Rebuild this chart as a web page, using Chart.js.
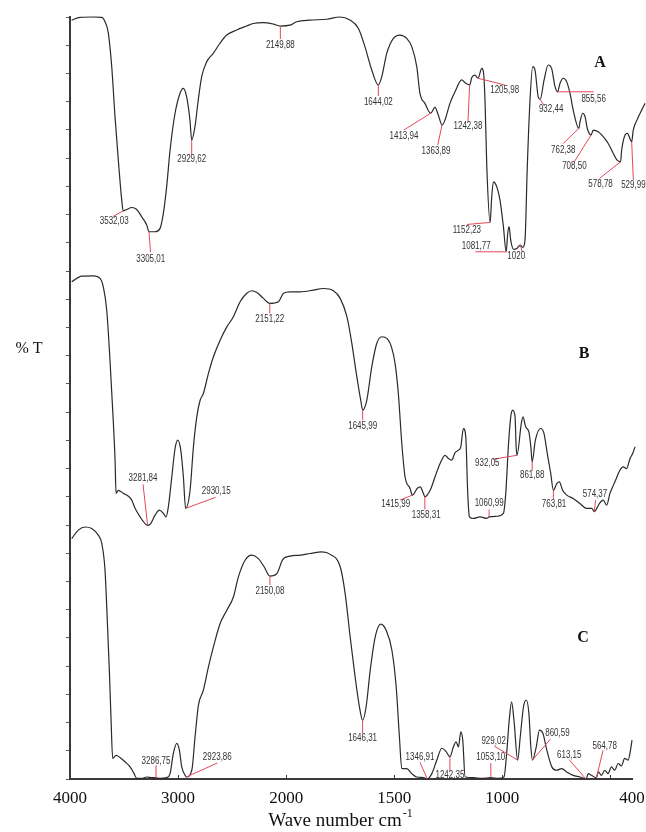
<!DOCTYPE html>
<html>
<head>
<meta charset="utf-8">
<script src="https://cdn.jsdelivr.net/npm/chart.js@4.4.1/dist/chart.umd.min.js"></script>
<style>
  html, body { margin: 0; padding: 0; background: #fff; }
</style>
</head>
<body>
<canvas id="ftir" width="646" height="832"></canvas>
<script>
// x axis: 4000-2000 at half the scale of 2000-400 (usual FTIR layout)
const tickWave = [4000, 3000, 2000, 1500, 1000, 500, 400];
const tickText = ['4000', '3000', '2000', '1500', '1000', '', '400'];

// spectrum A (its trace was pasted on a slightly wider scale, see xA)
const waveA = [3985, 3912, 3795, 3721, 3692, 3663, 3633, 3604, 3575, 3545,
  3532.03, 3501, 3457, 3413, 3369, 3325, 3305.01, 3252, 3208, 3179,
  3150, 3120, 3076, 3032, 3004, 2974, 2945, 2929.62, 2901, 2872,
  2842, 2798, 2740, 2681, 2622, 2534, 2446, 2388, 2300, 2212,
  2149.88, 2065, 2006, 1945, 1871, 1813, 1769, 1732, 1703, 1673,
  1644.02, 1629, 1607, 1578, 1549, 1519, 1497, 1475, 1461, 1439,
  1413.94, 1395, 1380, 1363.89, 1351, 1329, 1307, 1277, 1263, 1242.38,
  1233, 1219, 1205.98, 1189, 1182, 1175, 1167, 1152.23, 1146, 1138,
  1123, 1109, 1094, 1081.77, 1075, 1069, 1062, 1050, 1035, 1020,
  1009, 999, 989, 977, 965, 955, 941, 932.44, 915, 897,
  882, 867, 855.56, 845, 831, 816, 801, 787, 762.38, 757,
  745, 735, 725, 708.5, 699, 677, 655, 633, 611, 596,
  578.78, 574, 559, 549, 529.99, 523, 503, 486, 471];
const tA = [26.89, 26.99, 27.0, 26.99, 26.83, 26.43, 25.24, 23.46, 21.93, 20.51,
  20.13, 20.18, 20.25, 20.18, 19.92, 19.63, 19.39, 19.39, 19.51, 20.04,
  20.98, 22.28, 23.59, 24.30, 24.47, 24.17, 23.35, 22.64, 23.11, 24.06,
  24.88, 25.41, 25.71, 26.07, 26.36, 26.54, 26.68, 26.77, 26.80, 26.75,
  26.68, 26.71, 26.83, 26.89, 26.92, 27.0, 26.89, 26.60, 25.95, 25.12,
  24.59, 24.88, 25.71, 26.24, 26.36, 26.24, 25.95, 25.24, 24.29, 23.94,
  23.59, 23.80, 23.52, 23.17, 23.35, 23.94, 24.35, 24.77, 24.67, 24.59,
  24.86, 24.94, 24.83, 25.18, 25.06, 24.06, 21.69, 19.72, 20.55, 21.16,
  20.98, 20.51, 19.57, 18.68, 19.33, 19.57, 19.10, 18.77, 18.80, 18.92,
  18.84, 19.10, 21.69, 24.06, 25.24, 25.12, 24.17, 24.08, 24.77, 25.30,
  25.18, 24.53, 24.35, 24.65, 24.83, 24.71, 24.29, 23.70, 23.05, 23.29,
  23.59, 23.47, 23.05, 22.82, 22.99, 22.93, 22.76, 22.52, 22.17, 21.95,
  21.87, 22.28, 22.82, 22.88, 22.58, 22.99, 23.41, 23.70, 23.94];

const waveB = [3984, 3892, 3784, 3722, 3692, 3660, 3630, 3605, 3583, 3574,
  3553, 3506, 3460, 3429, 3398, 3352, 3306, 3281.84, 3253, 3213,
  3173, 3136, 3111, 3090, 3058, 3028, 3003, 2975, 2951, 2930.15,
  2889, 2858, 2827, 2796, 2766, 2719, 2673, 2611, 2549, 2488,
  2426, 2364, 2318, 2271, 2210, 2151.22, 2071, 2025, 1982, 1935,
  1874, 1828, 1781, 1750, 1719, 1696, 1673, 1655, 1645.99, 1627,
  1604, 1581, 1557, 1534, 1511, 1496, 1481, 1465, 1450, 1427,
  1415.99, 1393, 1380, 1365, 1358.31, 1334, 1311, 1288, 1265, 1250,
  1234, 1219, 1203, 1192, 1180, 1169, 1160, 1152, 1134, 1103,
  1072, 1060.99, 1026, 995, 984, 972, 961, 952, 941, 936,
  932.05, 912, 904, 892, 877, 868, 861.88, 847, 822, 807,
  792, 776, 763.81, 748, 736, 721, 702, 672, 641, 610,
  586, 574.37, 551, 533, 517, 502, 479, 456, 441, 425,
  409, 397, 386];
const tB = [17.62, 17.82, 17.83, 17.74, 17.44, 16.61, 14.84, 13.07, 11.30, 10.12,
  10.23, 10.12, 10.02, 9.88, 9.59, 9.29, 9.05, 8.99, 9.05, 9.35,
  9.53, 9.41, 9.29, 9.64, 10.71, 11.71, 12.01, 11.65, 10.71, 9.59,
  10.23, 11.77, 12.83, 13.42, 13.66, 14.37, 14.96, 15.55, 16.02, 16.38,
  16.91, 17.21, 17.30, 17.24, 17.03, 16.85, 16.91, 17.21, 17.26, 17.26,
  17.32, 17.38, 17.30, 17.03, 16.38, 15.43, 14.25, 13.42, 13.07, 13.42,
  14.60, 15.43, 15.67, 15.61, 15.26, 14.72, 13.66, 11.89, 10.71, 10.30,
  10.06, 10.30, 10.35, 10.12, 10.00, 10.23, 10.71, 11.18, 11.47, 11.36,
  11.30, 11.56, 11.65, 11.77, 12.42, 12.12, 10.12, 9.29, 9.23, 9.29,
  9.23, 9.29, 9.31, 9.41, 10.12, 11.77, 12.83, 13.07, 12.83, 11.77,
  11.47, 12.60, 12.83, 12.48, 12.30, 11.77, 11.24, 12.01, 12.42, 12.24,
  11.53, 10.83, 10.23, 10.47, 10.53, 10.23, 10.06, 9.94, 9.76, 9.59,
  9.59, 9.47, 9.76, 9.88, 9.70, 10.12, 10.53, 10.94, 11.06, 11.00,
  11.36, 11.53, 11.77];

const waveC = [3984, 3923, 3861, 3799, 3738, 3706, 3676, 3655, 3636, 3620,
  3605, 3574, 3537, 3491, 3444, 3407, 3382, 3336, 3290, 3244,
  3204, 3167, 3105, 3074, 3044, 3012, 2988, 2966, 2935, 2923.86,
  2873, 2843, 2812, 2766, 2719, 2673, 2611, 2549, 2488, 2442,
  2380, 2318, 2257, 2204, 2150.08, 2086, 2031, 1982, 1935, 1889,
  1835, 1796, 1750, 1727, 1704, 1681, 1661, 1646.31, 1630, 1611,
  1588, 1562, 1538, 1511, 1491, 1476, 1465, 1442, 1419, 1396,
  1365, 1346.91, 1326, 1303, 1280, 1260, 1242.35, 1226, 1214, 1203,
  1192, 1183, 1172, 1134, 1095, 1053.1, 1018, 992, 980, 968,
  957, 946, 929.02, 917, 902, 889, 877, 868, 860.59, 843,
  828, 812, 794, 771, 748, 725, 702, 672, 641, 613.15,
  602, 587, 564.78, 556, 541, 526, 511, 495, 480, 464,
  449, 434, 418, 407, 400];
const tC = [8.52, 8.82, 8.93, 8.88, 8.64, 8.35, 7.40, 5.63, 3.86, 2.08,
  0.73, 0.84, 0.76, 0.61, 0.43, 0.19, 0.02, 0.02, 0.07, 0.05,
  0.04, 0.02, 0.05, 0.19, 0.90, 1.26, 1.02, 0.43, 0.13, 0.07,
  0.31, 1.49, 2.61, 3.15, 3.97, 4.68, 5.51, 5.98, 6.45, 7.16,
  7.75, 7.93, 7.81, 7.52, 7.19, 7.28, 7.78, 7.90, 7.93, 7.99,
  8.05, 7.96, 7.52, 6.57, 5.04, 3.62, 2.56, 2.08, 2.56, 3.86,
  5.04, 5.49, 5.28, 4.57, 3.27, 1.49, 0.37, 0.37, 0.19, 0.07,
  0.05, 0.0, 0.19, 0.67, 1.09, 0.97, 0.79, 1.14, 1.32, 1.14,
  1.67, 1.38, 0.07, 0.05, 0.02, 0.05, 0.02, 0.07, 0.90, 2.08,
  2.73, 2.08, 0.67, 1.49, 2.56, 2.80, 2.32, 1.14, 0.67, 1.14,
  1.73, 1.61, 1.02, 0.43, 0.31, 0.37, 0.25, 0.13, 0.07, 0.0,
  0.19, 0.13, 0.04, 0.25, 0.13, 0.31, 0.19, 0.43, 0.31, 0.55,
  0.46, 0.73, 0.67, 1.02, 1.38];

// peak labels: anchor wavenumber, text
const peakWaveA = [3532.03, 3305.01, 2929.62, 2149.88, 1644.02, 1413.94, 1363.89, 1242.38, 1205.98,
  1152.23, 1081.77, 1020, 932.44, 855.56, 762.38, 708.5, 578.78, 529.99];
const peakTextA = ['3532,03', '3305,01', '2929,62', '2149,88', '1644,02', '1413,94', '1363,89', '1242,38', '1205,98',
  '1152,23', '1081,77', '1020', '932,44', '855,56', '762,38', '708,50', '578,78', '529,99'];
const peakWaveB = [3281.84, 2930.15, 2151.22, 1645.99, 1415.99, 1358.31, 1060.99, 932.05, 861.88, 763.81, 574.37];
const peakTextB = ['3281,84', '2930,15', '2151,22', '1645,99', '1415,99', '1358,31', '1060,99', '932,05', '861,88', '763,81', '574,37'];
const peakWaveC = [3204, 2923.86, 2150.08, 1646.31, 1346.91, 1242.35, 1053.1, 929.02, 860.59, 613.15, 564.78];
const peakTextC = ['3286,75', '2923,86', '2150,08', '1646,31', '1346,91', '1242,35', '1053,10', '929,02', '860,59', '613,15', '564,78'];

// label layout: leader end dx,dy and text centre dx,dy in px from the anchor
const offA = [[-10, 5.5, -9, 10], [1.5, 20.6, 1.7, 27.6], [0, 15, 0, 19.5], [0, 13, 0, 19.5], [0, 11, 0, 17.5],
  [-26.7, 16.7, -26.7, 23.3], [-4.3, 20, -6, 25.7], [-1.7, 36.7, -1.7, 41.7], [26.7, 6.7, 26.7, 12.4],
  [-23.3, 2, -23.3, 8], [-30.7, 0, -30, -5.7], [2, 7, -4, 11], [4, 6, 11, 10], [36, 0, 36, 7.5],
  [-15.6, 15, -15.6, 21.7], [-16.7, 26.7, -16.7, 31.7], [-21, 16.6, -20, 22.3], [1.7, 38.3, 1.7, 43.3]];
const offB = [[-4.6, -41, -4.6, -46.7], [30, -11, 30.6, -16.6], [0, 10, 0, 16], [0, 10, 0, 15.7],
  [-12.3, 5, -16.7, 9], [0, 12.6, 1.3, 18.3], [0, -7.4, 0, -13.4], [-24, 4, -29.7, 7.7],
  [0, 9, 0, 13.3], [0, 9.3, 0.7, 14], [1.3, -11.7, 0.7, -17.7]];
const offC = [[0, -12.7, 0, -17], [31, -14, 31, -19.4], [0, 9, 0, 14.7], [0, 13.3, 0, 18.3],
  [-7.3, -16.6, -7.3, -22], [0, 14, 0, 19], [0, -14.6, 0, -20], [-23.4, -14, -24, -19.3],
  [18, -21, 25, -26.7], [-16.7, -19.3, -16.7, -23.3], [6.7, -27.7, 8.3, -31.7]];

const letterText = ['A', 'B', 'C'];
const letterWave = [548, 622, 627];
const letterT = [25.37, 15.06, 5.0];

// wavenumber -> position on the split axis
function pos(w) {
  return w >= 2000 ? 4000 - w : 2000 + 2 * (2000 - w);
}
function valueAt(waves, vals, w) {
  for (let i = 0; i < waves.length - 1; i++) {
    if (waves[i] >= w && w >= waves[i + 1]) {
      const f = (waves[i] - w) / (waves[i] - waves[i + 1]);
      return vals[i] + f * (vals[i + 1] - vals[i]);
    }
  }
  return vals[vals.length - 1];
}

const spectra = [
  { axis: 'xA', wave: waveA, t: tA, peaks: peakWaveA, texts: peakTextA, offs: offA },
  { axis: 'x', wave: waveB, t: tB, peaks: peakWaveB, texts: peakTextB, offs: offB },
  { axis: 'x', wave: waveC, t: tC, peaks: peakWaveC, texts: peakTextC, offs: offC }
];

const serif = '"Liberation Serif", "Times New Roman", serif';

const decor = {
  id: 'decor',
  afterDatasetsDraw(chart) {
    const ctx = chart.ctx;
    const y = chart.scales.y;
    ctx.save();
    // peak labels
    spectra.forEach(s => {
      const xs = chart.scales[s.axis];
      s.peaks.forEach((w, i) => {
        const px = xs.getPixelForValue(pos(w));
        const py = y.getPixelForValue(valueAt(s.wave, s.t, w));
        const o = s.offs[i];
        ctx.strokeStyle = '#e3485a';
        ctx.lineWidth = 1;
        ctx.beginPath();
        ctx.moveTo(px, py);
        ctx.lineTo(px + o[0], py + o[1]);
        ctx.stroke();
        ctx.save();
        ctx.translate(px + o[2], py + o[3]);
        ctx.scale(0.8, 1);
        ctx.font = '10px "Liberation Sans", Arial, sans-serif';
        ctx.fillStyle = '#333';
        ctx.textAlign = 'center';
        ctx.textBaseline = 'middle';
        ctx.fillText(s.texts[i], 0, 0);
        ctx.restore();
      });
    });
    // A, B, C
    const x = chart.scales.x;
    ctx.font = 'bold 16px ' + serif;
    ctx.fillStyle = '#111';
    ctx.textAlign = 'center';
    ctx.textBaseline = 'middle';
    letterText.forEach((l, i) => {
      ctx.fillText(l, x.getPixelForValue(pos(letterWave[i])), y.getPixelForValue(letterT[i]));
    });
    ctx.restore();
  },
  afterDraw(chart) {
    const ctx = chart.ctx;
    const x = chart.scales.x;
    const area = chart.chartArea;
    ctx.save();
    // small inward ticks on the x axis
    ctx.strokeStyle = '#3a3a3a';
    ctx.lineWidth = 1;
    tickWave.slice(1, -1).forEach(w => {
      const px = Math.round(x.getPixelForValue(pos(w))) + 0.5;
      ctx.beginPath();
      ctx.moveTo(px, area.bottom);
      ctx.lineTo(px, area.bottom - 4);
      ctx.stroke();
    });
    ctx.fillStyle = '#111';
    // y title
    ctx.font = '16px ' + serif;
    ctx.textAlign = 'center';
    ctx.textBaseline = 'middle';
    ctx.fillText('% T', 29, 349);
    // x title with superscript
    ctx.textAlign = 'left';
    ctx.textBaseline = 'alphabetic';
    ctx.font = '19px ' + serif;
    const main = 'Wave number cm';
    const w1 = ctx.measureText(main).width;
    ctx.font = '12px ' + serif;
    const w2 = ctx.measureText('-1').width;
    const x0 = 340 - (w1 + w2) / 2;
    ctx.font = '19px ' + serif;
    ctx.fillText(main, x0, 826);
    ctx.font = '12px ' + serif;
    ctx.fillText('-1', x0 + w1 + 1, 817);
    ctx.restore();
  }
};

const datasets = spectra.map(s => ({
  data: s.wave.map((w, i) => ({ x: pos(w), y: s.t[i] })),
  xAxisID: s.axis,
  borderColor: '#2a2a2a',
  borderWidth: 1.2,
  pointRadius: 0,
  fill: false,
  cubicInterpolationMode: 'monotone',
  clip: false
}));

// limits set after data so the traces may run past the 400 end like the original
function fixRange(lo, hi) {
  return s => { s.min = lo; s.max = hi; };
}

new Chart(document.getElementById('ftir'), {
  type: 'line',
  data: { datasets: datasets },
  options: {
    responsive: false,
    animation: false,
    devicePixelRatio: 1,
    layout: { padding: { left: 60, right: 14, top: 17, bottom: 0 } },
    plugins: { legend: { display: false }, tooltip: { enabled: false } },
    scales: {
      x: {
        type: 'linear',
        bounds: 'data',
        afterDataLimits: fixRange(0, 5200),
        afterFit(s) {
          s.height = 53;
          s.paddingLeft = 0;
          s.paddingRight = 0;
        },
        afterBuildTicks(s) { s.ticks = tickWave.map(w => ({ value: pos(w) })); },
        ticks: {
          autoSkip: false,
          maxRotation: 0,
          padding: 9,
          color: '#111',
          font: { family: serif, size: 17 },
          callback: (v, i) => tickText[i]
        },
        grid: { display: false, drawTicks: false },
        border: { color: '#3a3a3a', width: 2 }
      },
      xA: { type: 'linear', display: false, bounds: 'data', afterDataLimits: fixRange(0, 4943) },
      y: {
        min: 0,
        max: 27,
        afterFit(s) {
          s.width = 10;
          s.paddingTop = 0;
          s.paddingBottom = 0;
        },
        ticks: { display: false, stepSize: 1 },
        grid: { drawOnChartArea: false, tickLength: 4, color: '#555' },
        border: { color: '#3a3a3a', width: 2 }
      }
    }
  },
  plugins: [decor]
});
</script>
</body>
</html>
